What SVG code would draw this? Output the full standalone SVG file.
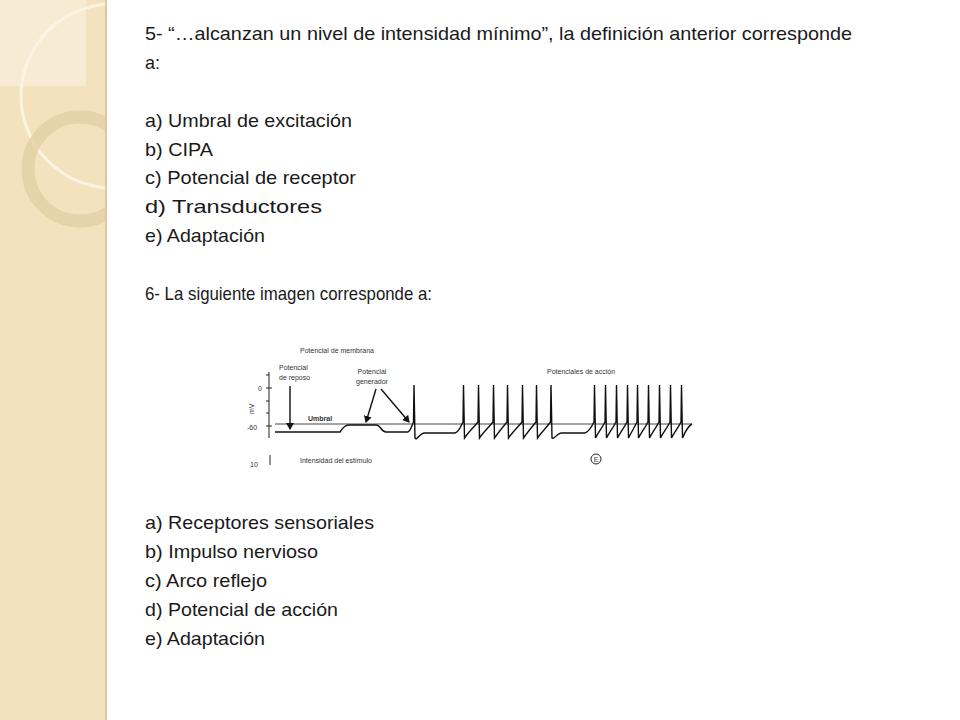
<svg xmlns="http://www.w3.org/2000/svg" width="960" height="720" viewBox="0 0 960 720">
<style>
.t{font-family:"Liberation Sans",Arial,sans-serif;font-size:19px;fill:#1a1a1a}
.s{font-family:"Liberation Sans",Arial,sans-serif;font-size:7px;fill:#333}
.ln{fill:none;stroke:#111;stroke-width:1.4}
</style>
<defs>
<marker id="ah" markerWidth="8" markerHeight="8" refX="6" refY="4" orient="auto" markerUnits="userSpaceOnUse"><path d="M0,0 L7,4 L0,8 Z" fill="#111"/></marker>
<clipPath id="bc"><rect x="0" y="0" width="106" height="720"/></clipPath>
</defs>
<rect width="960" height="720" fill="#fff"/>
<g id="band">
<rect x="0" y="0" width="106" height="720" fill="#f3e2bd"/>
<g clip-path="url(#bc)">
<rect x="0" y="0" width="86" height="86" fill="#f8eed8" opacity="0.8"/>
<circle cx="113" cy="96" r="92" fill="none" stroke="#fbf4e4" stroke-width="3"/>
<circle cx="80" cy="169" r="52" fill="none" stroke="#e3d0a6" stroke-width="13" opacity="0.85"/>
</g>
<rect x="105" y="0" width="2" height="720" fill="#d9c9a6"/>
</g>
<g id="text">
<text class="t" x="145" y="40" textLength="707" lengthAdjust="spacingAndGlyphs">5- “…alcanzan un nivel de intensidad mínimo”, la definición anterior corresponde</text>
<text class="t" x="145" y="69" textLength="15" lengthAdjust="spacingAndGlyphs">a:</text>
<text class="t" x="145" y="127" textLength="207" lengthAdjust="spacingAndGlyphs">a) Umbral de excitación</text>
<text class="t" x="145" y="156" textLength="68" lengthAdjust="spacingAndGlyphs">b) CIPA</text>
<text class="t" x="145" y="184" textLength="211" lengthAdjust="spacingAndGlyphs">c) Potencial de receptor</text>
<text class="t" x="145" y="213" textLength="177" lengthAdjust="spacingAndGlyphs">d) Transductores</text>
<text class="t" x="145" y="242" textLength="120" lengthAdjust="spacingAndGlyphs">e) Adaptación</text>
<text class="t" x="145" y="300" textLength="287" lengthAdjust="spacingAndGlyphs">6- La siguiente imagen corresponde a:</text>
<text class="t" x="145" y="529" textLength="229" lengthAdjust="spacingAndGlyphs">a) Receptores sensoriales</text>
<text class="t" x="145" y="558" textLength="173" lengthAdjust="spacingAndGlyphs">b) Impulso nervioso</text>
<text class="t" x="145" y="587" textLength="122" lengthAdjust="spacingAndGlyphs">c) Arco reflejo</text>
<text class="t" x="145" y="616" textLength="193" lengthAdjust="spacingAndGlyphs">d) Potencial de acción</text>
<text class="t" x="145" y="645" textLength="120" lengthAdjust="spacingAndGlyphs">e) Adaptación</text>
</g>
<g id="figure">
<text class="s" x="300" y="353">Potencial de membrana</text>
<text class="s" x="279" y="370">Potencial</text>
<text class="s" x="279" y="380">de reposo</text>
<text class="s" x="372" y="374" text-anchor="middle">Potencial</text>
<text class="s" x="372" y="384" text-anchor="middle">generador</text>
<text class="s" x="547" y="374">Potenciales de acción</text>
<text class="s" x="308" y="421" font-weight="bold">Umbral</text>
<text class="s" x="300" y="463">Intensidad del estímulo</text>
<text class="s" x="258" y="391" font-size="9">0</text>
<text class="s" x="247" y="430" font-size="9">-60</text>
<text class="s" x="0" y="0" font-size="10" transform="translate(254,414) rotate(-90)">mV</text>
<text class="s" x="250" y="467" font-size="8">10</text>
<path d="M269,372 V438 M266,375 H269 M266,388 H272 M266,401 H269 M266,413 H269 M266,426 H272 M270,455 V465" stroke="#222" stroke-width="1" fill="none"/>
<line x1="275" y1="424" x2="692" y2="424" stroke="#333" stroke-width="0.9"/>
<circle cx="596" cy="459" r="5" fill="none" stroke="#222" stroke-width="1"/>
<text class="s" x="596" y="462" text-anchor="middle" font-size="7">E</text>
</g>
<g id="connectors">
<path class="ln" d="M275,432 L340,432 C344,426 346,425 350,425 L376,425 C381,425 381,432 386,432 L408,432 C411,430 412,425 413.5,422 L414,385 L415,438 C417,441 419,434 424,433 L455,433 C459,432 461,426 463,422 L463.5,385 L464.5,438 C468,433 473,428 478,422 L478.5,385 L479.5,438 C483,433 488,428 493,422 L493.5,385 L494.5,438 C498,433 502,428 507,422 L507.5,385 L508.5,438 C512,433 517,428 522,422 L522.5,385 L523.5,438 C527,433 531,428 536,422 L536.5,385 L537.5,438 C541,433 546,428 550.5,422 L551,385 L552,438 C554,440 556,434 561,433 L585,433 C589,432 592,426 594,422 L594.5,385 L595.5,438 C598,433 602,428 605,422 L605.5,385 L606.5,438 C609,433 613,428 616,422 L616.5,385 L617.5,438 C620,433 624,428 627,422 L627.5,385 L628.5,438 C631,433 634,428 637,422 L637.5,385 L638.5,438 C641,433 645,428 648,422 L648.5,385 L649.5,438 C652,433 656,428 659,422 L659.5,385 L660.5,438 C663,433 667,428 670,422 L670.5,385 L671.5,438 C674,433 678,428 681,422 L681.5,385 L682.5,438 C685,432 688,426 692,424"/>
<line class="ln" x1="290" y1="386" x2="290" y2="429" marker-end="url(#ah)"/>
<line class="ln" x1="376" y1="389" x2="366" y2="422" marker-end="url(#ah)"/>
<line class="ln" x1="381" y1="389" x2="409" y2="422" marker-end="url(#ah)"/>
</g>
</svg>
